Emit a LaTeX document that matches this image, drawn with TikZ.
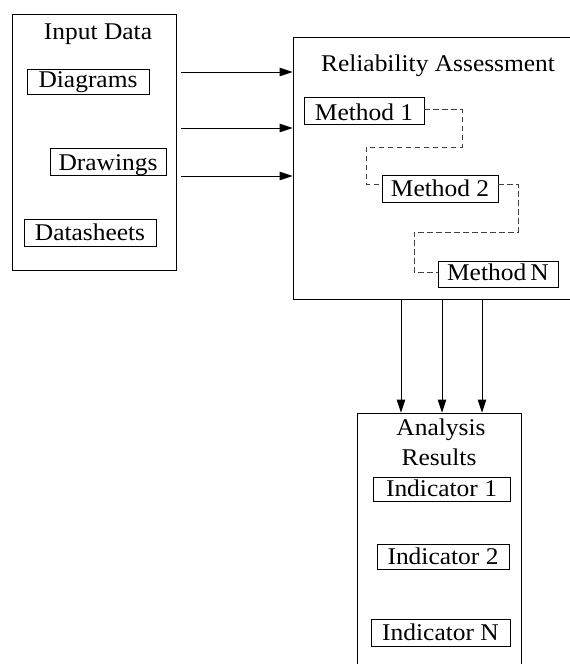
\documentclass[tikz,border=0pt]{standalone}
\usepackage{fontspec}
\setmainfont{Liberation Serif}
\usetikzlibrary{arrows.meta}
\newcommand{\wt}[1]{\scalebox{1.06}[1]{#1}}
\tikzset{
  every node/.style={font=\fontsize{24}{30}\selectfont, inner sep=0pt},
  container/.style={draw, line width=0.9pt},
  item/.style={draw, line width=0.9pt},
  title/.style={anchor=base},
  arr/.style={line width=0.9pt, -{Triangle[length=13pt,width=8.5pt]}},
  dl/.style={line width=0.9pt, black!75, dash pattern=on 5.5pt off 3.5pt}
}
\begin{document}
\begin{tikzpicture}[x=1pt,y=-1pt]
\useasboundingbox (0,0) rectangle (570,664);
\clip (0,0) rectangle (570,664);
% containers
\node[container, minimum width=164pt, minimum height=256pt] (input) at (94,142) {};
\node[container, minimum width=287pt, minimum height=262pt] (rel) at (436.5,168) {};
\node[container, minimum width=164pt, minimum height=280pt] (res) at (439,553) {};
% titles
\node[title] (tin) at (98,39.3) {\wt{Input Data}};
\node[title] (trel) at (438,71.7) {\wt{Reliability Assessment}};
\node[title] (tres1) at (441,435) {\wt{Analysis}};
\node[title] (tres2) at (439,465) {\wt{Results}};
% input items
\node[item, minimum width=122pt, text height=18pt, text depth=7pt] (dia) at (88,81.5) {\wt{Diagrams}};
\node[item, minimum width=116pt, text height=21.3pt, text depth=5.3pt] (drw) at (108,162) {\wt{Drawings}};
\node[item, minimum width=132pt, text height=21.7pt, text depth=5.3pt] (dat) at (90,232.5) {\wt{Datasheets}};
% methods
\node[item, minimum width=120pt, text height=23pt, text depth=4pt] (m1) at (364,110.5) {\wt{Method 1}};
\node[item, minimum width=116pt, text height=21pt, text depth=5.6pt] (m2) at (440,189) {\wt{Method 2}};
\node[item, minimum width=120pt, text height=19pt, text depth=7pt] (mN) at (498,274.7) {\wt{Method\,N}};
% indicators
\node[item, minimum width=137pt, text height=19pt, text depth=5pt] (i1) at (441.5,489) {\wt{Indicator 1}};
\node[item, minimum width=132pt, text height=20pt, text depth=5pt] (i2) at (443,556.5) {\wt{Indicator 2}};
\node[item, minimum width=139pt, text height=21pt, text depth=6pt] (iN) at (440.5,632.5) {\wt{Indicator N}};
% arrows input -> reliability
\coordinate (a1) at (181,72);
\coordinate (a2) at (181,128);
\coordinate (a3) at (181,176);
\draw[arr] (a1) -- (rel.west |- a1);
\draw[arr] (a2) -- (rel.west |- a2);
\draw[arr] (a3) -- (rel.west |- a3);
% arrows reliability -> results
\coordinate (b1) at (401,0);
\coordinate (b2) at (442,0);
\coordinate (b3) at (482,0);
\draw[arr] (rel.south -| b1) -- (res.north -| b1);
\draw[arr] (rel.south -| b2) -- (res.north -| b2);
\draw[arr] (rel.south -| b3) -- (res.north -| b3);
% dashed chains
\coordinate (c1) at (462,109.5);
\coordinate (c2) at (366,184);
\coordinate (c3) at (518,184);
\coordinate (c4) at (414,272);
\draw[dl] (m1.east |- c1) -- (c1) -- (462,147) -- (366,147) -- (c2) -- (m2.west |- c2);
\draw[dl] (m2.east |- c3) -- (c3) -- (518,232) -- (414,232) -- (c4) -- (mN.west |- c4);
\end{tikzpicture}
\end{document}
